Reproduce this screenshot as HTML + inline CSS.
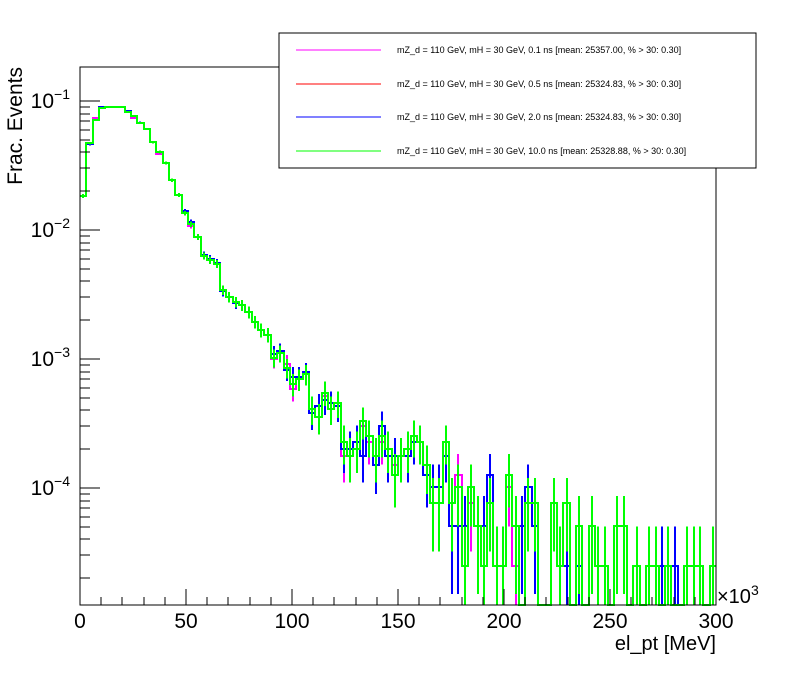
<!DOCTYPE html>
<html><head><meta charset="utf-8"><style>
html,body{margin:0;padding:0;background:#fff;}
svg text{font-family:"Liberation Sans",sans-serif;}
</style></head><body>
<svg id="chart" width="796" height="672" xmlns="http://www.w3.org/2000/svg" shape-rendering="crispEdges">
<rect x="0" y="0" width="796" height="672" fill="#fff"/>
<g id="plot"></g>
<rect x="80" y="67" width="636" height="538" fill="none" stroke="#000" stroke-width="1"/>
<g id="axes"></g>
<text x="716" y="650" font-size="20" text-anchor="end">el_pt [MeV]</text>
<text x="717" y="603" font-size="20">×10<tspan dy="-8" font-size="14">3</tspan></text>
<text transform="translate(22,67) rotate(-90)" font-size="21" text-anchor="end">Frac. Events</text>
<g>
<rect x="279" y="33" width="477" height="135" fill="#fff" stroke="#000" stroke-width="1"/>
<line x1="296" y1="50" x2="381" y2="50" stroke="#f0f" stroke-width="1"/>
<text x="397" y="53" font-size="9">mZ_d = 110 GeV, mH = 30 GeV, 0.1 ns [mean: 25357.00, % &gt; 30: 0.30]</text>
<line x1="296" y1="84" x2="381" y2="84" stroke="#f00" stroke-width="1"/>
<text x="397" y="87" font-size="9">mZ_d = 110 GeV, mH = 30 GeV, 0.5 ns [mean: 25324.83, % &gt; 30: 0.30]</text>
<line x1="296" y1="117" x2="381" y2="117" stroke="#00f" stroke-width="1"/>
<text x="397" y="120" font-size="9">mZ_d = 110 GeV, mH = 30 GeV, 2.0 ns [mean: 25324.83, % &gt; 30: 0.30]</text>
<line x1="296" y1="151" x2="381" y2="151" stroke="#0f0" stroke-width="1"/>
<text x="397" y="154" font-size="9">mZ_d = 110 GeV, mH = 30 GeV, 10.0 ns [mean: 25328.88, % &gt; 30: 0.30]</text>
</g>
</svg>
<script>
const xTicks=[0,50,100,150,200,250,300];
const yTicks=[-4,-3,-2,-1];
const unitFrac=2.53e-5;
const green=[0.0184,0.0472,0.0712,0.0883,0.0899,0.0899,0.0899,0.0822,0.0766,0.0675,0.0607,0.0481,0.0402,0.0331,0.0244,0.0187,0.0135,0.0111,0.00883,0.00629,0.00586,0.00546,0.00343,0.00302,0.00277,0.00262,0.00231,0.00194,0.00168,0.00154,
1.02e-3,1.11e-3,8.5e-4,6.4e-4,7.0e-4,7.6e-4,4.1e-4,3.54e-4,5.5e-4,4.1e-4,4.55e-4,2.28e-4,1.77e-4,2.02e-4,3.29e-4,2.53e-4,1.77e-4,2.53e-4,2.02e-4,1.27e-4,1.77e-4,2.02e-4,2.53e-4,2.28e-4,1.52e-4,7.6e-5,7.6e-5,2.28e-4,7.6e-5,1.01e-4,2.5e-5,1.01e-4,5.1e-5,2.5e-5,7.6e-5,2.5e-5,2.5e-5,1.27e-4,5.1e-5,0,7.6e-5,7.6e-5,0,0,7.6e-5,2.5e-5,7.6e-5,0,5.1e-5,0,5.1e-5,2.5e-5,2.5e-5,0,5.1e-5,5.1e-5,0,2.5e-5,0,2.5e-5,2.5e-5,0,2.5e-5,0,0,2.5e-5,2.5e-5,2.5e-5,0,2.5e-5];
const blue=[0.0184,0.0465,0.0712,0.0900,0.0899,0.0899,0.0899,0.0840,0.0766,0.0680,0.0607,0.0481,0.0402,0.0331,0.0244,0.0187,0.0140,0.0115,0.00883,0.00640,0.00600,0.00560,0.00335,0.00302,0.00270,0.00262,0.00231,0.00194,0.00168,0.00154,
1.10e-3,1.15e-3,8.2e-4,7.3e-4,7.3e-4,7.9e-4,3.8e-4,4.3e-4,4.8e-4,4.55e-4,4.3e-4,2.02e-4,2.02e-4,2.28e-4,1.77e-4,2.53e-4,1.52e-4,3.04e-4,1.77e-4,1.77e-4,1.77e-4,1.77e-4,2.28e-4,2.28e-4,1.27e-4,1.01e-4,1.01e-4,1.77e-4,5.1e-5,5.1e-5,5.1e-5,1.01e-4,5.1e-5,5.1e-5,1.27e-4,2.5e-5,2.5e-5,1.27e-4,5.1e-5,5.1e-5,1.01e-4,5.1e-5,0,0,7.6e-5,2.5e-5,2.5e-5,0,2.5e-5,0,5.1e-5,2.5e-5,2.5e-5,0,5.1e-5,5.1e-5,0,2.5e-5,0,2.5e-5,2.5e-5,2.5e-5,2.5e-5,2.5e-5,0,2.5e-5,2.5e-5,2.5e-5,0,2.5e-5];
const magenta=[0.0184,0.0472,0.0740,0.0883,0.0899,0.0899,0.0899,0.0822,0.0740,0.0675,0.0607,0.0481,0.0390,0.0331,0.0244,0.0187,0.0135,0.0108,0.00883,0.00629,0.00586,0.00546,0.00343,0.00302,0.00277,0.00262,0.00231,0.00194,0.00168,0.00154,
1.0e-3,1.11e-3,9.2e-4,5.9e-4,7.0e-4,7.6e-4,4.1e-4,3.54e-4,5.2e-4,4.1e-4,4.3e-4,1.77e-4,1.77e-4,2.02e-4,3.04e-4,2.28e-4,1.77e-4,2.28e-4,1.77e-4,1.52e-4,1.77e-4,2.02e-4,2.28e-4,2.28e-4,1.52e-4,7.6e-5,7.6e-5,2.28e-4,7.6e-5,1.27e-4,2.5e-5,7.6e-5,5.1e-5,2.5e-5,7.6e-5,2.5e-5,2.5e-5,1.01e-4,2.5e-5,0,1.01e-4,7.6e-5,0,0,7.6e-5,2.5e-5,7.6e-5,0,5.1e-5,0,5.1e-5,2.5e-5,2.5e-5,0,5.1e-5,5.1e-5,0,2.5e-5,0,2.5e-5,2.5e-5,0,2.5e-5,0,0,2.5e-5,2.5e-5,2.5e-5,0,2.5e-5];
const red=magenta.slice();
const seriesNames=['hist-0p1ns','hist-0p5ns','hist-2ns','hist-10ns'];
const seriesData=[red,magenta,blue,green];
const seriesColors=['#f00','#f0f','#00f','#0f0'];

const X0=80,X1=716,Y0=605,Y1=67;
const xmin=0,xmax=300,lmin=-4.907,lmax=-0.736;
const binW=3;
function xs(v){return X0+(v-xmin)/(xmax-xmin)*(X1-X0);}
function ys(v){if(v<=0)return Y0;const l=Math.log10(v);return Math.max(Y1,Math.min(Y0,Y0-(l-lmin)/(lmax-lmin)*(Y0-Y1)));}
const NS='http://www.w3.org/2000/svg';
function mk(tag,attrs,parent){const e=document.createElementNS(NS,tag);for(const k in attrs)e.setAttribute(k,attrs[k]);parent.appendChild(e);return e;}
const plot=document.getElementById('plot'),axes=document.getElementById('axes');
seriesData.forEach((d,s)=>{
  const g=mk('g',{},plot);
  
  
  let p='';
  d.forEach((v,i)=>{const xa=Math.round(xs(i*binW)),xb=Math.round(xs((i+1)*binW)),y=Math.round(ys(v));p+=(i===0?'M':'L')+xa+','+y+'L'+xb+','+y;});
  const path=mk('path',{d:p,fill:'none',stroke:seriesColors[s],'stroke-width':2},g);
  
  
  d.forEach((v,i)=>{
    if(v<=0)return;
    const n=v/unitFrac,rel=1/Math.sqrt(n);
    const xc=Math.round(xs((i+0.5)*binW));
    const lo=v*(1-rel),hi=v*(1+rel);
    const e=mk('line',{x1:xc,x2:xc,y1:ys(lo>0?lo:0),y2:ys(hi),stroke:seriesColors[s],'stroke-width':2},g);
    
    
  });
});
for(let v=0;v<=300;v+=10){
  const x=Math.round(xs(v)),major=v%50===0;
  const t=mk('line',{x1:x,x2:x,y1:Y0,y2:Y0-(major?16:8),stroke:'#000'},axes);
  
  
}
xTicks.forEach(v=>{
  const t=mk('text',{x:xs(v),y:628,'font-size':21,'text-anchor':'middle'},axes);
  t.textContent=v;
  
  
});
for(let dcd=-5;dcd<=-1;dcd++){
  for(let m=1;m<10;m++){
    const v=m*Math.pow(10,dcd),l=Math.log10(v);
    if(l<lmin||l>lmax)continue;
    const y=Math.round(ys(v));
    const t=mk('line',{x1:X0,x2:X0+(m===1?20:10),y1:y,y2:y,stroke:'#000'},axes);
    
    
  }
}
yTicks.forEach(e=>{
  const t=mk('text',{x:70,y:ys(Math.pow(10,e))+7,'font-size':21,'text-anchor':'end'},axes);
  
  
  t.innerHTML='10<tspan dy="-9" font-size="14">'+(e<0?'\u2212':'')+Math.abs(e)+'</tspan>';
});
</script>
</body></html>
